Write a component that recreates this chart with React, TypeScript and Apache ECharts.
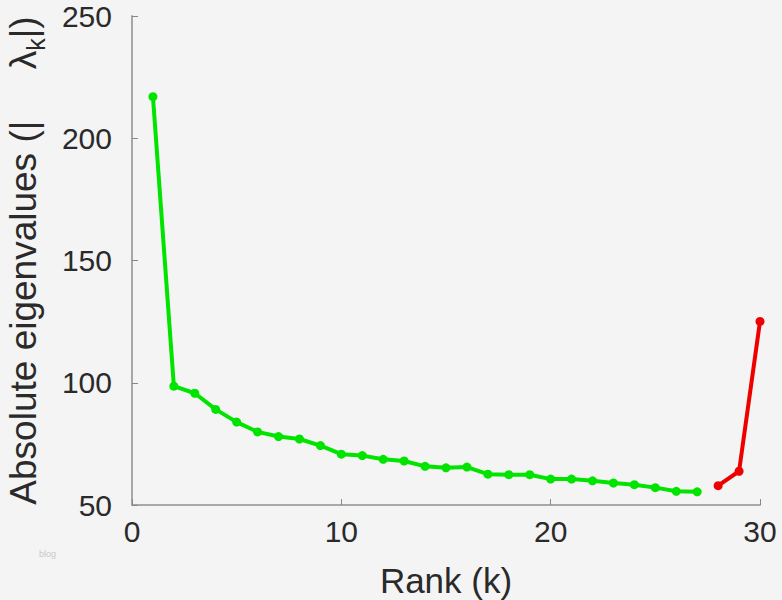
import React, { useEffect, useRef } from "react";
import * as echarts from "echarts";

const greenRanks = [1,2,3,4,5,6,7,8,9,10,11,12,13,14,15,16,17,18,19,20,21,22,23,24,25,26,27];
const greenValues = [217,98.6,95.7,89.1,83.9,79.9,78.0,77.0,74.3,70.8,70.2,68.7,68.0,65.8,65.2,65.5,62.6,62.4,62.4,60.6,60.6,59.9,59.0,58.3,57.1,55.6,55.4];
const redRanks = [28,29,30];
const redValues = [57.9,63.8,125.1];
const yTicks = [50,100,150,200,250];
const xTicks = [0,10,20,30];

const FONT = "Liberation Sans, Arial, Helvetica, sans-serif";

export default function App() {
  const ref = useRef<HTMLDivElement>(null);
  useEffect(() => {
    if (!ref.current) return;
    const chart = echarts.init(ref.current, null, { renderer: "svg" });
    const axisCommon = {
      axisLine: { show: true, lineStyle: { color: "#a8a8a8", width: 2 } },
      axisTick: { show: true, inside: true, length: 6, lineStyle: { color: "#888", width: 1 } },
      splitLine: { show: false },
      axisLabel: { color: "#2a2a2a", fontSize: 30, lineHeight: 30, fontFamily: FONT },
      nameTextStyle: { color: "#2a2a2a", fontSize: 35, fontFamily: FONT },
    };
    chart.setOption({
      animation: false,
      backgroundColor: "#f4f4f4",
      textStyle: { fontFamily: FONT },
      grid: { left: 132, right: 22, top: 16, bottom: 95, containLabel: false, outerBoundsMode: "none" },
      xAxis: {
        type: "value",
        min: xTicks[0],
        max: xTicks[xTicks.length - 1],
        interval: 10,
        name: "Rank (k)",
        nameLocation: "middle",
        nameGap: 58,
        ...axisCommon,
        axisLabel: { ...axisCommon.axisLabel, margin: 11 },
      },
      yAxis: {
        type: "value",
        min: yTicks[0],
        max: yTicks[yTicks.length - 1],
        interval: 50,
        name: "{n|Absolute eigenvalues (|     λ}{s|k}{n||)}",
        nameLocation: "middle",
        nameRotate: 90,
        nameGap: 90,
        ...axisCommon,
        axisLabel: { ...axisCommon.axisLabel, margin: 20 },
        nameTextStyle: {
          ...axisCommon.nameTextStyle,
          rich: {
            n: { fontSize: 37, color: "#2a2a2a", fontFamily: FONT, lineHeight: 36, verticalAlign: "bottom" },
            s: { fontSize: 25, color: "#2a2a2a", fontFamily: FONT, lineHeight: 36, verticalAlign: "bottom", padding: [0, 0, -6, 0] },
          },
        },
      },
      series: [
        {
          type: "line",
          data: greenRanks.map((r, i) => [r, greenValues[i]]),
          symbol: "circle",
          symbolSize: 9,
          lineStyle: { color: "#00e400", width: 4 },
          itemStyle: { color: "#00e400" },
        },
        {
          type: "line",
          data: redRanks.map((r, i) => [r, redValues[i]]),
          symbol: "circle",
          symbolSize: 9,
          lineStyle: { color: "#ee0000", width: 4 },
          itemStyle: { color: "#ee0000" },
        },
      ],
      graphic: [
        { type: "text", left: 39, top: 549, style: { text: "blog", fontSize: 9, fill: "#c8c8c8", fontFamily: FONT } },
      ],
    });
    return () => chart.dispose();
  }, []);
  return (
    <div style={{ position: "absolute", left: 0, top: 0, width: 782, height: 600, boxSizing: "border-box", border: "1px solid #cfcfcf", borderRightWidth: 2, background: "#f4f4f4" }}>
      <div ref={ref} style={{ position: "absolute", left: -1, top: -1, width: 782, height: 600 }} />
    </div>
  );
}
